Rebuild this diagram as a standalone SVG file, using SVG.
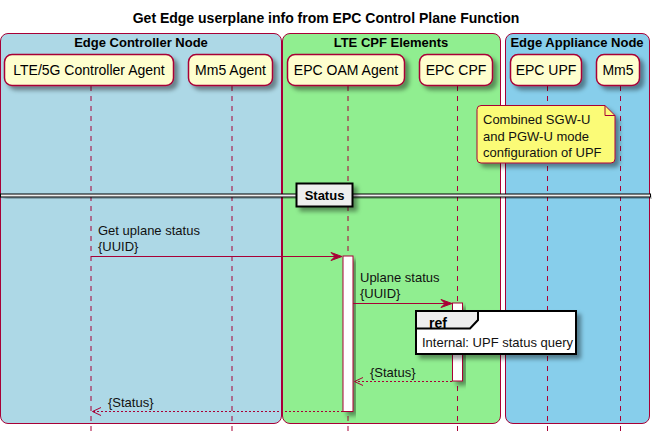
<svg xmlns="http://www.w3.org/2000/svg" width="652" height="432" viewBox="0 0 652 432">
<style>
text{font-family:"Liberation Sans",Arial,sans-serif;fill:#000}
.title{font-size:14px;font-weight:bold}
.grp{font-size:13px;font-weight:bold}
.pt{font-size:14px}
.msg{font-size:13px;fill:#111}
.part{fill:#FEFECE;stroke:#A80036;stroke-width:1.5}
.life{stroke:#A80036;stroke-width:1;stroke-dasharray:5,5;fill:none}
.act{fill:#FFFFFF;stroke:#A80036;stroke-width:1}
.line{stroke:#A80036;stroke-width:1;fill:none}
.ret{stroke:#A80036;stroke-width:1;stroke-dasharray:2,2;fill:none}
.head{fill:#A80036;stroke:#A80036;stroke-width:1}
.box{stroke:#A80036;stroke-width:1}
</style>
<defs>
<filter id="sh" x="-20%" y="-20%" width="150%" height="160%">
<feDropShadow dx="4" dy="4" stdDeviation="2" flood-color="#000" flood-opacity="0.4"/>
</filter>
</defs>
<text class="title" x="326" y="23" text-anchor="middle">Get Edge userplane info from EPC Control Plane Function</text>
<g id="box-edge-controller">
<rect class="box" x="0.5" y="33.5" width="281" height="390" rx="7.5" fill="#ADD8E6"/>
<text class="grp" x="141" y="47" text-anchor="middle">Edge Controller Node</text>
</g>
<g id="box-lte-cpf">
<rect class="box" x="282.5" y="33.5" width="218" height="390" rx="7.5" fill="#90EE90"/>
<text class="grp" x="391" y="47" text-anchor="middle">LTE CPF Elements</text>
</g>
<g id="box-edge-appliance">
<rect class="box" x="505.5" y="33.5" width="144" height="390" rx="7.5" fill="#87CEEB"/>
<text class="grp" x="577" y="47" text-anchor="middle">Edge Appliance Node</text>
</g>
<g id="lifelines">
<line class="life" x1="91" y1="86" x2="91" y2="432"/>
<line class="life" x1="232" y1="86" x2="232" y2="432"/>
<line class="life" x1="348" y1="86" x2="348" y2="432"/>
<line class="life" x1="457.5" y1="86" x2="457.5" y2="432"/>
<line class="life" x1="547.5" y1="86" x2="547.5" y2="432"/>
<line class="life" x1="620.5" y1="86" x2="620.5" y2="432"/>
</g>
<g id="p-lte5g">
<rect class="part" x="4.5" y="54.5" width="169" height="31" rx="7.5" filter="url(#sh)"/>
<text class="pt" x="89" y="75" text-anchor="middle">LTE/5G Controller Agent</text>
</g>
<g id="p-mm5agent">
<rect class="part" x="188.5" y="54.5" width="84" height="31" rx="7.5" filter="url(#sh)"/>
<text class="pt" x="230.5" y="75" text-anchor="middle">Mm5 Agent</text>
</g>
<g id="p-oam">
<rect class="part" x="287.5" y="54.5" width="117" height="31" rx="7.5" filter="url(#sh)"/>
<text class="pt" x="346" y="75" text-anchor="middle">EPC OAM Agent</text>
</g>
<g id="p-cpf">
<rect class="part" x="419.5" y="54.5" width="73" height="31" rx="7.5" filter="url(#sh)"/>
<text class="pt" x="456" y="75" text-anchor="middle">EPC CPF</text>
</g>
<g id="p-upf">
<rect class="part" x="510.5" y="54.5" width="71" height="31" rx="7.5" filter="url(#sh)"/>
<text class="pt" x="546" y="75" text-anchor="middle">EPC UPF</text>
</g>
<g id="p-mm5">
<rect class="part" x="596.5" y="54.5" width="43" height="31" rx="7.5" filter="url(#sh)"/>
<text class="pt" x="618" y="75" text-anchor="middle">Mm5</text>
</g>
<g id="note-upf">
<path d="M481,105.5 L605,105.5 L615,115.5 L615,159 Q615,163 611,163 L481,163 Q477,163 477,159 L477,109.5 Q477,105.5 481,105.5 Z" fill="#FBFB77" stroke="#A80036" stroke-width="1" filter="url(#sh)"/>
<path d="M605,105.5 L605,115.5 L615,115.5" fill="none" stroke="#A80036" stroke-width="1"/>
<text class="msg" x="483" y="124">Combined SGW-U</text>
<text class="msg" x="483" y="140.5">and PGW-U mode</text>
<text class="msg" x="483" y="157">configuration of UPF</text>
</g>
<g id="divider-status">
<rect x="0.5" y="194" width="650" height="3" fill="#EEEEEE" stroke="#000" stroke-width="1" filter="url(#sh)"/>
<rect x="296.5" y="183.5" width="56" height="23" fill="#EEEEEE" stroke="#000" stroke-width="2" filter="url(#sh)"/>
<text class="grp" x="324.5" y="200" text-anchor="middle">Status</text>
</g>
<g id="activations">
<rect class="act" x="343" y="256" width="10" height="155.5" filter="url(#sh)"/>
<rect class="act" x="452.5" y="303" width="10" height="78" filter="url(#sh)"/>
</g>
<g id="ref-upf-status">
<rect x="416" y="311" width="160" height="43" fill="#FFFFFF" stroke="#000" stroke-width="2" filter="url(#sh)"/>
<path d="M416,311 L478,311 L478,320 L470,328.5 L416,328.5 Z" fill="#EEEEEE" stroke="#000" stroke-width="2"/>
<text x="429" y="328" style="font-size:14px;font-weight:bold">ref</text>
<text class="msg" x="422" y="347">Internal: UPF status query</text>
</g>
<g id="connectors">
<g id="m1">
<line class="line" x1="91" y1="256.5" x2="341" y2="256.5"/>
<polygon class="head" points="331,252.5 342,256.5 331,260.5 335,256.5"/>
<text class="msg" x="98" y="235">Get uplane status</text>
<text class="msg" x="98" y="251">{UUID}</text>
</g>
<g id="m2">
<line class="line" x1="353" y1="303.5" x2="451" y2="303.5"/>
<polygon class="head" points="441,299.5 452,303.5 441,307.5 445,303.5"/>
<text class="msg" x="360" y="282">Uplane status</text>
<text class="msg" x="360" y="298">{UUID}</text>
</g>
<g id="m3">
<line class="ret" x1="452" y1="381.5" x2="355" y2="381.5"/>
<polyline class="line" points="363,377.5 354.5,381.5 363,385.5" stroke-width="2"/>
<text class="msg" x="370" y="377">{Status}</text>
</g>
<g id="m4">
<line class="ret" x1="343" y1="411.5" x2="93" y2="411.5"/>
<polyline class="line" points="101,407.5 92.5,411.5 101,415.5" stroke-width="2"/>
<text class="msg" x="108" y="407">{Status}</text>
</g>
</g>
</svg>
